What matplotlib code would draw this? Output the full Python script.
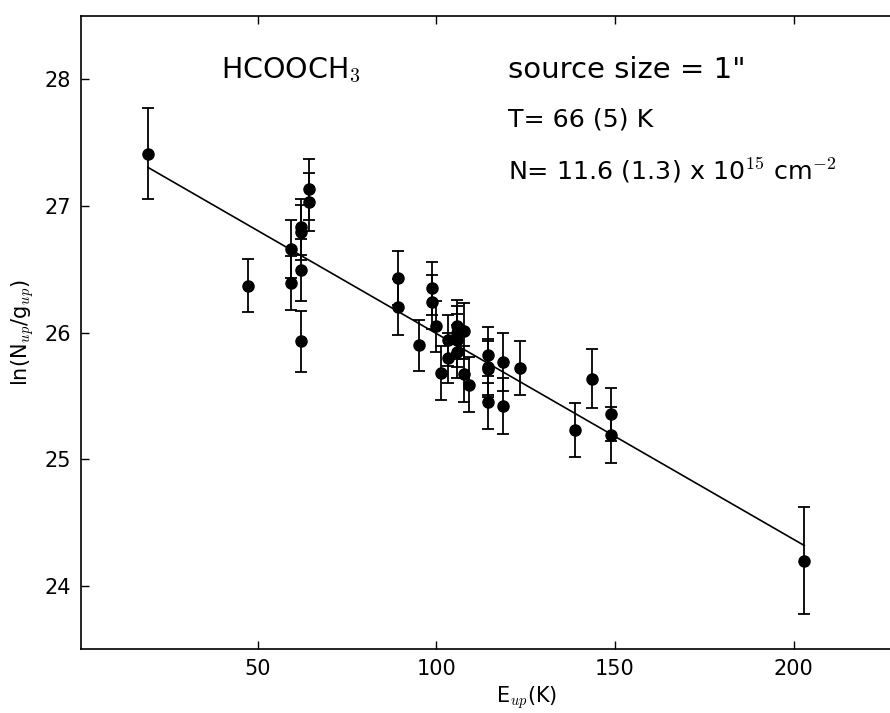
#!/usr/bin/env python3

import numpy as np
import matplotlib
matplotlib.use('Agg')
import matplotlib.pyplot as plt

# rotational diagram points: E_up [K], ln(N_up/g_up), error
e_up = [19.3, 47.2, 59.4, 59.4, 62.2, 62.2, 62.2, 62.2, 64.3, 64.3,
        89.2, 89.2, 95.2, 98.9, 98.9, 99.8, 101.4, 103.2, 103.2,
        105.8, 105.8, 105.8, 105.8, 107.9, 107.9, 109.2,
        114.6, 114.6, 114.6, 114.6, 118.75, 118.75, 123.3,
        138.7, 143.6, 148.9, 148.9, 203.0]
ln_n = [27.41, 26.37, 26.66, 26.39, 26.83, 26.79, 26.49, 25.93, 27.13, 27.03,
        26.43, 26.20, 25.90, 26.35, 26.24, 26.05, 25.68, 25.94, 25.80,
        26.05, 26.00, 25.94, 25.85, 26.01, 25.67, 25.59,
        25.82, 25.73, 25.71, 25.45, 25.77, 25.42, 25.72,
        25.23, 25.635, 25.356, 25.193, 24.20]
ln_err = [0.36, 0.21, 0.23, 0.21, 0.22, 0.22, 0.245, 0.24, 0.24, 0.23,
          0.21, 0.22, 0.20, 0.21, 0.21, 0.20, 0.21, 0.20, 0.20,
          0.21, 0.21, 0.21, 0.21, 0.22, 0.22, 0.22,
          0.22, 0.22, 0.22, 0.21, 0.23, 0.22, 0.21,
          0.215, 0.233, 0.21, 0.22, 0.42]

# fitted line (end points)
fit_x = [19.3, 203.0]
fit_y = [27.303, 24.32]


def main():
    plt.rcParams['mathtext.fontset'] = 'cm'
    plt.rcParams['font.family'] = 'DejaVu Sans'

    fig = plt.figure(figsize=(8.9, 7.13), dpi=100)
    ax = fig.add_axes([0.0907, 0.0891, 1.0017, 0.889])

    ax.errorbar(e_up, ln_n, yerr=ln_err, fmt='o', color='k', ms=8,
                elinewidth=1.3, capsize=4.5, capthick=1.3)
    ax.plot(fit_x, fit_y, color='k', lw=1.2)

    ax.set_xlim([0.5, 250])
    ax.set_ylim([23.5, 28.5])
    ax.set_xticks([50, 100, 150, 200])
    ax.set_yticks([24, 25, 26, 27, 28])
    ax.tick_params(direction='in', top=True, right=True, length=6,
                   width=1, labelsize=15, pad=7)
    for s in ax.spines.values():
        s.set_linewidth(1.2)

    ax.set_xlabel('E$_{up}$(K)', fontsize=15, labelpad=4)
    ax.set_ylabel('ln(N$_{up}$/g$_{up}$)', fontsize=15, labelpad=6)

    ax.text(39.8, 28.07, 'HCOOCH$_3$', fontsize=20.5, va='center')
    ax.text(120, 28.07, 'source size = 1"', fontsize=21, va='center')
    ax.text(120, 27.68, 'T= 66 (5) K', fontsize=18.2, va='center')
    ax.text(120, 27.28, 'N= 11.6 (1.3) x 10$^{15}$ cm$^{-2}$', fontsize=18.3,
            va='center')

    plt.savefig('out.png', dpi=100)


if __name__ == '__main__':
    main()
